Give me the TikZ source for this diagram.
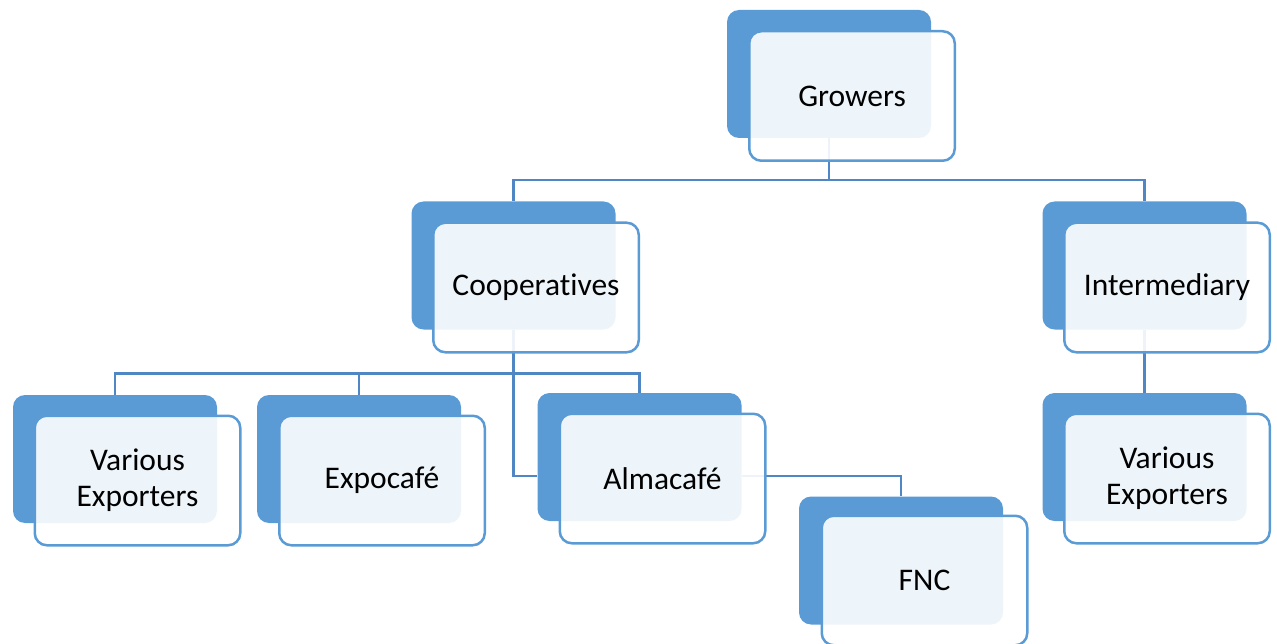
\documentclass[tikz,border=0pt]{standalone}
\usepackage{fontspec}
\setmainfont[Ligatures={NoCommon}]{Carlito}
\definecolor{darkblue}{HTML}{5B9BD5}
\definecolor{linkblue}{HTML}{4F87C4}
\tikzset{
  backbox/.style={fill=darkblue, draw=none, rounded corners=12pt, minimum width=204pt, minimum height=128pt, inner sep=0pt},
  frontbox/.style={fill=white, fill opacity=0.9, text opacity=1, draw=darkblue, line width=2.5pt, rounded corners=12pt, minimum width=205.5pt, minimum height=129.5pt, inner sep=0pt, align=center, font=\fontsize{31.5}{36}\selectfont},
  link/.style={draw=linkblue, line width=2.5pt}
}
\begin{document}
\begin{tikzpicture}[x=1pt,y=-1pt]
\useasboundingbox (0,0) rectangle (1277,644);
% back boxes
\node[backbox] (gD) at (829,74) {};
\node[backbox] (cD) at (513.5,265.5) {};
\node[backbox] (iD) at (1144.5,265.5) {};
\node[backbox] (vrD) at (1144.5,457) {};
\node[backbox] (vlD) at (115,459) {};
\node[backbox] (eD) at (359,459) {};
\node[backbox] (aD) at (639.5,457) {};
\node[backbox] (fD) at (901,560.5) {};
% connectors
\coordinate (gbus) at (829,180);
\coordinate (cbus) at (513.5,373.5);
\draw[link] (gD.south) -- (gbus);
\draw[link] (gbus) -| (cD.north);
\draw[link] (gbus) -| (iD.north);
\draw[link] (cD.south) -- (cbus);
\draw[link] (cbus) -| (vlD.north);
\draw[link] (cbus) -| (eD.north);
\draw[link] (cbus) -| (aD.north);
\draw[link] (cbus) |- ([yshift=-19pt]aD.west);
\draw[link] ([yshift=-19pt]aD.east) -| (fD.north);
\draw[link] (iD.south) -- (vrD.north);
% front boxes
\node[frontbox] (gF) at (852,96) {Growers};
\node[frontbox] (cF) at (536,287.5) {Cooperatives};
\node[frontbox] (iF) at (1167,287.5) {Intermediary};
\node[frontbox] (vrF) at (1167,478.5) {Various\\Exporters};
\node[frontbox] (vlF) at (137.5,480.5) {Various\\Exporters};
\node[frontbox] (eF) at (382,480.5) {Expocafé};
\node[frontbox] (aF) at (662.5,478.5) {Almacafé};
\node[frontbox] (fF) at (924.5,580.5) {FNC};
\end{tikzpicture}
\end{document}
